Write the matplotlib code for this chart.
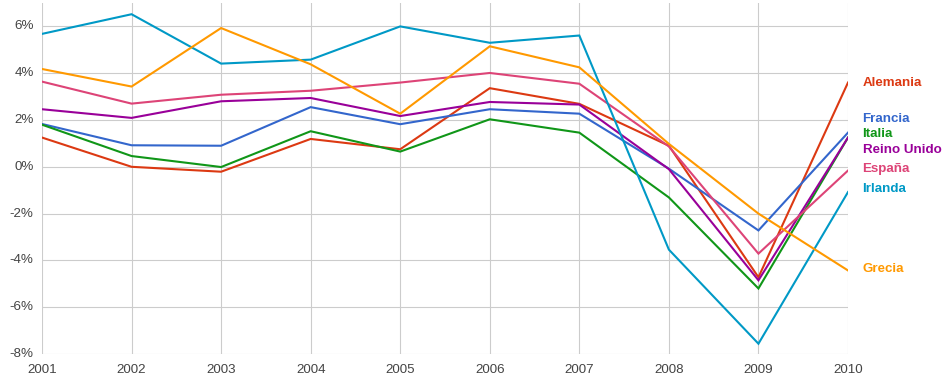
"""Crecimiento del PIB real en varios países europeos, 2001-2010."""

import matplotlib

matplotlib.use("Agg")
import matplotlib.pyplot as plt
from matplotlib.ticker import FuncFormatter, MultipleLocator
from matplotlib.transforms import blended_transform_factory

YEARS = [2001, 2002, 2003, 2004, 2005, 2006, 2007, 2008, 2009, 2010]

COUNTRIES = ["Alemania", "Francia", "Italia", "Reino Unido", "España", "Irlanda", "Grecia"]

ALEMANIA = [1.25, 0.0, -0.21, 1.19, 0.75, 3.36, 2.69, 0.90, -4.72, 3.60]
FRANCIA = [1.83, 0.92, 0.90, 2.55, 1.82, 2.46, 2.27, -0.08, -2.72, 1.46]
ITALIA = [1.80, 0.46, -0.01, 1.52, 0.65, 2.03, 1.46, -1.31, -5.20, 1.25]
REINO_UNIDO = [2.46, 2.09, 2.80, 2.94, 2.17, 2.77, 2.66, -0.10, -4.85, 1.25]
ESPANA = [3.64, 2.70, 3.08, 3.25, 3.60, 4.01, 3.55, 0.87, -3.71, -0.16]
IRLANDA = [5.68, 6.52, 4.41, 4.58, 6.00, 5.30, 5.61, -3.54, -7.56, -1.08]
GRECIA = [4.18, 3.43, 5.93, 4.38, 2.27, 5.15, 4.25, 0.98, -2.00, -4.43]

SERIES = [ALEMANIA, FRANCIA, ITALIA, REINO_UNIDO, ESPANA, IRLANDA, GRECIA]
COLORS = ["#dc3912", "#3366cc", "#109618", "#990099", "#dd4477", "#0099c6", "#ff9900"]

# vertical position of the end labels (spread so they do not overlap)
LABEL_Y = [3.58, 2.06, 1.41, 0.72, -0.10, -0.96, -4.35]

Y_MIN, Y_MAX = -8.0, 7.0


def main() -> None:
    plt.rcParams["font.family"] = ["Liberation Sans", "DejaVu Sans"]
    fig = plt.figure(figsize=(9.47, 3.82), dpi=100)
    ax = fig.add_axes((42 / 947, 28 / 382, 806 / 947, 351 / 382))

    for values, color in zip(SERIES, COLORS):
        ax.plot(YEARS, values, color=color, linewidth=1.5, solid_joinstyle="miter")

    ax.set_xlim(YEARS[0], YEARS[-1])
    ax.set_ylim(Y_MIN, Y_MAX)
    ax.set_xticks(YEARS)
    ax.yaxis.set_major_locator(MultipleLocator(2))
    ax.yaxis.set_major_formatter(FuncFormatter(lambda v, _: f"{v:.0f}%"))
    ax.grid(True, color="#cccccc", linewidth=0.8)
    ax.set_axisbelow(True)
    for spine in ax.spines.values():
        spine.set_visible(False)
    ax.tick_params(axis="both", length=0, labelsize=9.6, colors="#444444")
    ax.tick_params(axis="y", pad=6)
    ax.tick_params(axis="x", pad=7)
    for label in ax.get_yticklabels():
        label.set_verticalalignment("center")

    trans = blended_transform_factory(ax.transAxes, ax.transData)
    for name, y, color in zip(COUNTRIES, LABEL_Y, COLORS):
        ax.text(
            1.018, y, name, transform=trans, color=color,
            fontsize=9.6, fontweight="bold", va="center", ha="left",
        )

    fig.savefig("out.png", dpi=100)
    plt.close(fig)


if __name__ == "__main__":
    main()
